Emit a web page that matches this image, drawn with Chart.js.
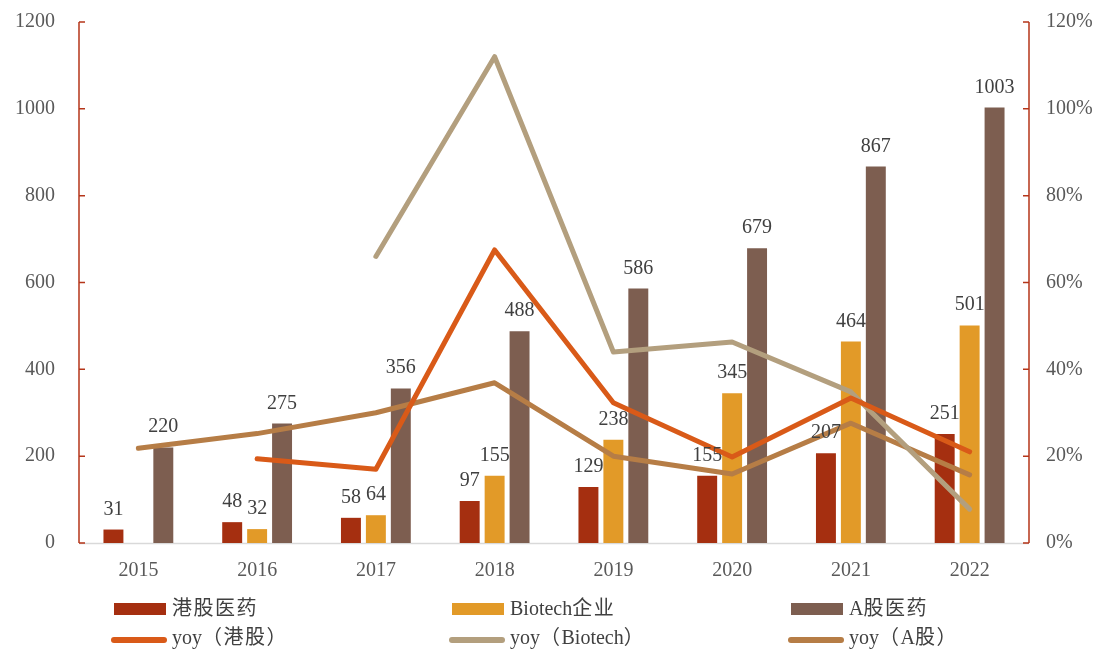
<!DOCTYPE html>
<html>
<head>
<meta charset="utf-8">
<script src="https://cdn.jsdelivr.net/npm/chart.js@4.4.1/dist/chart.umd.min.js"></script>
<style>
  html, body { margin: 0; padding: 0; background: #fff; overflow: hidden; }
  #wrap { position: relative; width: 1094px; height: 649px; }
  #c { position: absolute; left: 0; top: 0; }
  .lg { position: absolute; font-family: "Liberation Serif", "Noto Sans CJK SC", serif; font-size: 20px; color: #404040; white-space: nowrap; line-height: 20px; }
  .cjk { letter-spacing: 1.5px; }
  .sw { position: absolute; }
</style>
</head>
<body>
<div id="wrap">
  <canvas id="c" width="1094" height="649"></canvas>
  <div id="legend"></div>
</div>
<script>
const years = ['2015', '2016', '2017', '2018', '2019', '2020', '2021', '2022'];

// 数量（左轴）
const hkPharma = [31, 48, 58, 97, 129, 155, 207, 251];
const biotech = [null, 32, 64, 155, 238, 345, 464, 501];
const aPharma = [220, 275, 356, 488, 586, 679, 867, 1003];

// yoy %（右轴）
const yoyHk = [null, 19.4, 17.0, 67.5, 32.3, 19.8, 33.4, 21.0];
const yoyBio = [null, null, 66, 112, 44, 46.3, 34.8, 7.8];
const yoyA = [21.8, 25.2, 30, 36.9, 20, 15.9, 27.6, 15.7];

const leftTicks = [0, 200, 400, 600, 800, 1000, 1200];
const rightTicks = [0, 20, 40, 60, 80, 100, 120];

const C_HK = '#A52F10';
const C_BIO = '#E29A28';
const C_A = '#7D5E50';
const C_YHK = '#D95A18';
const C_YBIO = '#B39F7E';
const C_YA = '#B67D46';
const AXIS_RED = '#B5361A';

const serif = '"Liberation Serif", "Times New Roman", serif';

// 轴线 + 刻度
const axesPlugin = {
  id: 'axes',
  beforeDatasetsDraw(chart) {
    const { ctx, chartArea: a } = chart;
    ctx.save();
    ctx.strokeStyle = '#D9D9D9';
    ctx.lineWidth = 1.5;
    ctx.beginPath();
    ctx.moveTo(a.left, a.bottom + 0.5);
    ctx.lineTo(a.right, a.bottom + 0.5);
    ctx.stroke();
    ctx.restore();
  },
  afterDraw(chart) {
    const { ctx, chartArea: a, scales } = chart;
    ctx.save();
    ctx.strokeStyle = AXIS_RED;
    ctx.lineWidth = 1.5;
    ctx.beginPath();
    ctx.moveTo(a.left, a.top);
    ctx.lineTo(a.left, a.bottom);
    ctx.moveTo(a.right, a.top);
    ctx.lineTo(a.right, a.bottom);
    leftTicks.forEach(v => {
      const y = scales.y.getPixelForValue(v);
      ctx.moveTo(a.left, y);
      ctx.lineTo(a.left + 6, y);
    });
    rightTicks.forEach(v => {
      const y = scales.y2.getPixelForValue(v);
      ctx.moveTo(a.right, y);
      ctx.lineTo(a.right - 6, y);
    });
    ctx.stroke();
    ctx.restore();
  }
};

// 柱顶数值
const labelPlugin = {
  id: 'barLabels',
  afterDatasetsDraw(chart) {
    const { ctx } = chart;
    ctx.save();
    ctx.font = '20px ' + serif;
    ctx.fillStyle = '#404040';
    ctx.textAlign = 'center';
    ctx.textBaseline = 'alphabetic';
    chart.data.datasets.forEach((ds, i) => {
      if (ds.type !== 'bar') return;
      chart.getDatasetMeta(i).data.forEach((el, j) => {
        const v = ds.data[j];
        if (v == null) return;
        ctx.fillText(String(v), el.x, el.y - 15);
      });
    });
    ctx.restore();
  }
};

const lineStyle = {
  type: 'line',
  yAxisID: 'y2',
  borderWidth: 5,
  pointRadius: 0,
  pointHoverRadius: 0,
  tension: 0,
  borderCapStyle: 'round',
  borderJoinStyle: 'round',
  spanGaps: false,
  order: 1
};

const barStyle = {
  type: 'bar',
  yAxisID: 'y',
  barPercentage: 0.8,
  categoryPercentage: 0.63,
  order: 2
};

function fitY(width) {
  return s => { s.width = width; s.paddingTop = 0; s.paddingBottom = 0; };
}

new Chart(document.getElementById('c').getContext('2d'), {
  data: {
    labels: years,
    datasets: [
      { ...barStyle, label: '港股医药', data: hkPharma, backgroundColor: C_HK },
      { ...barStyle, label: 'Biotech企业', data: biotech, backgroundColor: C_BIO },
      { ...barStyle, label: 'A股医药', data: aPharma, backgroundColor: C_A },
      { ...lineStyle, label: 'yoy（港股）', data: yoyHk, borderColor: C_YHK, backgroundColor: C_YHK },
      { ...lineStyle, label: 'yoy（Biotech）', data: yoyBio, borderColor: C_YBIO, backgroundColor: C_YBIO },
      { ...lineStyle, label: 'yoy（A股）', data: yoyA, borderColor: C_YA, backgroundColor: C_YA }
    ]
  },
  options: {
    responsive: false,
    animation: false,
    layout: { padding: { top: 22, left: 0, right: 0, bottom: 0 } },
    plugins: { legend: { display: false }, tooltip: { enabled: false } },
    scales: {
      x: {
        offset: true,
        grid: { display: false, drawTicks: false },
        border: { display: false },
        ticks: { font: { family: serif, size: 20 }, color: '#595959', padding: 16 },
        afterFit(s) { s.height = 106; s.paddingLeft = 0; s.paddingRight = 0; }
      },
      y: {
        position: 'left',
        min: 0, max: 1200,
        grid: { display: false, drawTicks: false },
        border: { display: false },
        ticks: { stepSize: 200, font: { family: serif, size: 20 }, color: '#595959', padding: 24,
          callback: v => String(v) },
        afterFit: fitY(79)
      },
      y2: {
        position: 'right',
        min: 0, max: 120,
        grid: { display: false, drawTicks: false },
        border: { display: false },
        ticks: { stepSize: 20, font: { family: serif, size: 20 }, color: '#595959', padding: 17,
          callback: v => v + '%' },
        afterFit: fitY(65)
      }
    }
  },
  plugins: [axesPlugin, labelPlugin]
});

// 图例
const legendItems = [
  { html: '<span class="cjk">港股医药</span>', color: C_HK, kind: 'bar', x: 114, y: 609 },
  { html: 'Biotech<span class="cjk">企业</span>', color: C_BIO, kind: 'bar', x: 452, y: 609 },
  { html: 'A<span class="cjk">股医药</span>', color: C_A, kind: 'bar', x: 791, y: 609 },
  { html: 'yoy<span class="cjk">（港股）</span>', color: C_YHK, kind: 'line', x: 111, y: 640 },
  { html: 'yoy<span class="cjk">（</span>Biotech<span class="cjk">）</span>', color: C_YBIO, kind: 'line', x: 449, y: 640 },
  { html: 'yoy<span class="cjk">（</span>A<span class="cjk">股）</span>', color: C_YA, kind: 'line', x: 788, y: 640 }
];
const legend = document.getElementById('legend');
legendItems.forEach(it => {
  const sw = document.createElement('div');
  sw.className = 'sw';
  let textX, textTop;
  if (it.kind === 'bar') {
    sw.style.cssText = `left:${it.x}px;top:${it.y - 6}px;width:52px;height:12px;background:${it.color}`;
    textX = it.x + 58;
    textTop = it.y - 11;
  } else {
    sw.style.cssText = `left:${it.x}px;top:${it.y - 3}px;width:56px;height:6px;border-radius:3px;background:${it.color}`;
    textX = it.x + 61;
    textTop = it.y - 13;
  }
  legend.appendChild(sw);
  const t = document.createElement('div');
  t.className = 'lg';
  t.innerHTML = it.html;
  t.style.left = textX + 'px';
  t.style.top = textTop + 'px';
  legend.appendChild(t);
});
</script>
</body>
</html>
